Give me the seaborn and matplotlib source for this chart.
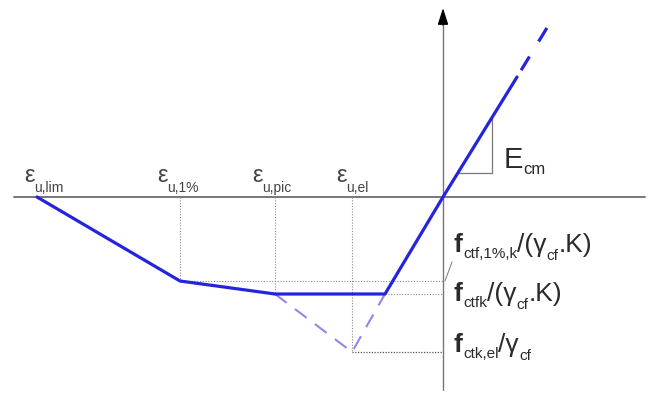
import matplotlib
matplotlib.use("Agg")
import matplotlib.pyplot as plt
import seaborn as sns

# -------------------------------------------------
# Data (strain / stress, arbitrary units)
# -------------------------------------------------
eps_names = ['u,lim', 'u,1%', 'u,pic', 'u,el']
eps_values = [-406, -263, -168, -91]

f_1pct = -84      # f_ctf,1%,k / (gamma_cf . K)
f_ctfk = -97      # f_ctfk / (gamma_cf . K)
f_el = -155       # f_ctk,el / gamma_cf

curve_strain = [-406, -263, -168, -58, 0, 74]
curve_stress = [0, f_1pct, f_ctfk, f_ctfk, 0, 120]

ext_strain = [74, 113]
ext_stress = [120, 184]

elastic_strain = [-168, -91, -58]
elastic_stress = [f_ctfk, f_el, f_ctfk]

# -------------------------------------------------
# Style
# -------------------------------------------------
sns.set_style("white")
plt.rcParams['font.family'] = ['Liberation Sans', 'DejaVu Sans']

blue = '#2424dc'
light_blue = '#8a8ae8'
grey = '#777777'
txt = '#2a2a2a'

fig = plt.figure(figsize=(6.51, 3.96), dpi=100)
ax = fig.add_axes([0, 0, 1, 1])
ax.set_xlim(-443, 208)
ax.set_ylim(-199, 197)
ax.axis('off')

# axes of the diagram
ax.plot([-429, 202], [0, 0], color=grey, lw=1.4, zorder=1)
ax.plot([0, 0], [-193, 178], color=grey, lw=1.0, zorder=1)
ax.annotate('', xy=(0, 189), xytext=(0, 172),
            arrowprops=dict(arrowstyle='-|>,head_length=0.5,head_width=0.16',
                            color='black', lw=1, mutation_scale=20,
                            shrinkA=0, shrinkB=0))

# dotted guides
dot = dict(color='#8a8a8a', lw=0.8, ls=(0, (1, 1.5)), zorder=1)
guide_levels = [f_1pct, f_ctfk, f_el]
for e, lev in zip(eps_values[1:], guide_levels):
    ax.plot([e, e], [0, lev], **dot)
ax.plot([eps_values[1], 0], [f_1pct, f_1pct], **dot)
ax.plot([curve_strain[3], 0], [f_ctfk, f_ctfk], **dot)
ax.plot([eps_values[3], 0], [f_el, f_el], color='#555555', lw=0.9,
        ls=(0, (1, 1.2)), zorder=1)

# elastic extension (light dashed)
sns.lineplot(x=elastic_strain, y=elastic_stress, sort=False, estimator=None,
             color=light_blue, lw=1.5, ax=ax, zorder=2)
ax.lines[-1].set_dashes([7, 5])

# main curve
sns.lineplot(x=curve_strain, y=curve_stress, sort=False, estimator=None,
             color=blue, lw=2.3, ax=ax, zorder=3)
sns.lineplot(x=ext_strain, y=ext_stress, sort=False, estimator=None,
             color=blue, lw=2.3, ax=ax, zorder=3)
ax.lines[-1].set_dashes([0, 2.5, 5, 3])

# E_cm slope triangle
slope = curve_stress[5] / curve_strain[5]
tri_top = 49
tri_bot = 24
ax.plot([tri_bot / slope, tri_top, tri_top], [tri_bot, tri_bot, tri_top * slope],
        color=grey, lw=0.9, zorder=2)

# small leader to the first stress level
ax.plot([2, 9], [f_1pct, -65], color=grey, lw=0.7)


# -------------------------------------------------
# Labels with subscripts
# -------------------------------------------------
renderer = fig.canvas.get_renderer()


def rich(x, y, parts, color=txt):
    dx = 0
    for s, size, dy, weight in parts:
        t = ax.annotate(s, xy=(x, y), xytext=(dx, dy), textcoords='offset points',
                        fontsize=size, ha='left', va='baseline', color=color,
                        fontweight=weight)
        dx += t.get_window_extent(renderer).width * 72 / fig.dpi


eps_x = [-419, -286, -191, -107]
for name, x in zip(eps_names, eps_x):
    rich(x, 15, [('ε', 17, 0, 'normal'), (name, 10, -7, 'normal')], color='#444444')

rich(61, 29, [('E', 21, 0, 'normal'), ('cm', 12, -4, 'normal')])

rich(11, -55, [('f', 19, 0, 'bold'), ('ctf,1%,k', 11, -4, 'normal'),
               ('/(γ', 19, 0, 'normal'), ('cf', 11, -6, 'normal'),
               ('.K)', 19, 0, 'normal')])
rich(11, -104, [('f', 19, 0, 'bold'), ('ctfk', 11, -4, 'normal'),
                ('/(γ', 19, 0, 'normal'), ('cf', 11, -6, 'normal'),
                ('.K)', 19, 0, 'normal')])
rich(11, -155, [('f', 19, 0, 'bold'), ('ctk,el', 11, -4, 'normal'),
                ('/γ', 19, 0, 'normal'), ('cf', 11, -6, 'normal')])

fig.savefig('out.png', dpi=100)
